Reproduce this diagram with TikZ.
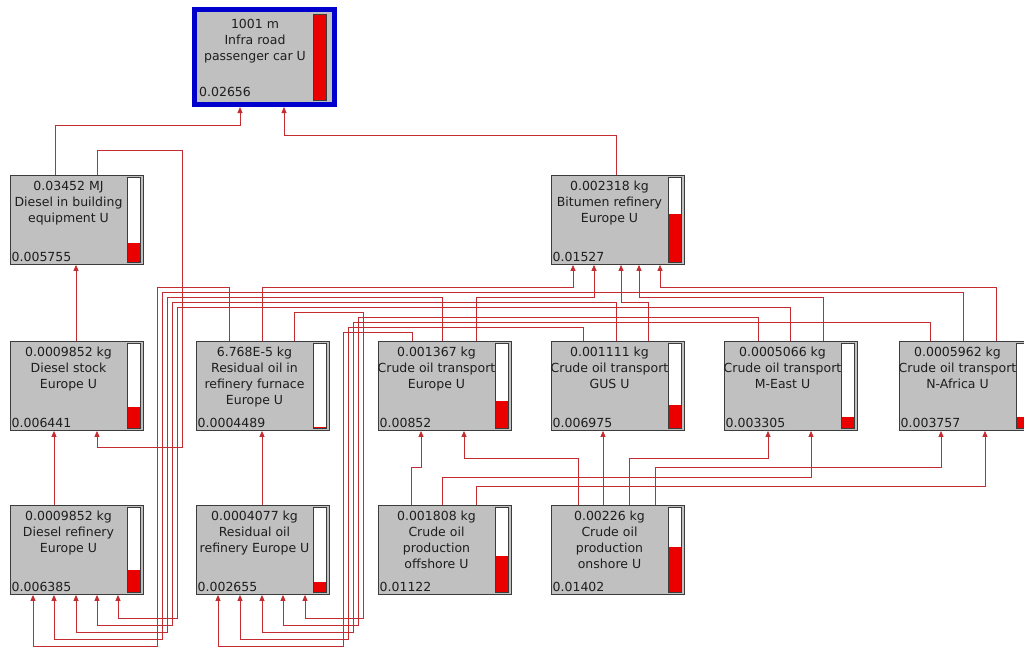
\documentclass[tikz,border=0pt]{standalone}
\usepackage{fontspec}
\setmainfont{DejaVu Sans}
\usetikzlibrary{arrows.meta}
\newcommand{\procbox}[6]{%
  \begin{scope}[shift={(#2,#3)}]
    \node[procbox] (#1) at (0,0) {};
    \draw[barframe] (117,2) rectangle (130,87);
    \fill[barred] (117.5,#4) rectangle (129.5,86.5);
    \node[boxlabel] at (58.5,6) {#5};
    \node[boxvalue] at (1.5,86.5) {#6};
  \end{scope}}
\begin{document}
\begin{tikzpicture}[x=1pt,y=-1pt,
  procbox/.style={draw=boxedge, fill=boxgray, line width=0.9pt, anchor=north west,
    minimum width=133pt, minimum height=89pt, inner sep=0pt},
  barframe/.style={draw=boxedge, fill=white, line width=0.8pt},
  barred/.style={fill=barfill},
  boxlabel/.style={anchor=north, align=center, inner sep=0pt, text=textgray,
    font=\fontsize{12.5}{16}\selectfont},
  boxvalue/.style={anchor=base west, inner sep=0pt, text=textgray,
    font=\fontsize{12.5}{16}\selectfont},
  flow/.style={draw=linkred, line width=0.8pt, -{Triangle[length=6pt,width=5pt]}}]
\definecolor{boxgray}{RGB}{192,192,192}
\definecolor{boxedge}{RGB}{60,60,60}
\definecolor{barfill}{RGB}{235,0,0}
\definecolor{linkred}{RGB}{195,45,50}
\definecolor{selblue}{RGB}{0,0,205}
\definecolor{textgray}{RGB}{30,30,30}
\clip (0,0) rectangle (1024,649);
\fill[white] (0,0) rectangle (1024,649);
\node[procbox, draw=selblue, line width=5pt, minimum width=140pt, minimum height=95pt] (T) at (192,7) {};
\draw[barframe] (313,14) rectangle (326,100);
\fill[barred] (313.5,14.5) rectangle (325.5,99.5);
\node[boxlabel] at (255,19) {1001 m\\Infra road\\passenger car U};
\node[boxvalue] at (199,96) {0.02656};
\procbox{A}{10}{175}{68}{0.03452 MJ\\Diesel in building\\equipment U}{0.005755}
\procbox{B}{551}{175}{39}{0.002318 kg\\Bitumen refinery\\Europe U}{0.01527}
\procbox{C}{10}{341}{66}{0.0009852 kg\\Diesel stock\\Europe U}{0.006441}
\procbox{D}{196}{341}{85.5}{6.768E-5 kg\\Residual oil in\\refinery furnace\\Europe U}{0.0004489}
\procbox{E}{378}{341}{60}{0.001367 kg\\Crude oil transport\\Europe U}{0.00852}
\procbox{F}{551}{341}{64}{0.001111 kg\\Crude oil transport\\GUS U}{0.006975}
\procbox{G}{724}{341}{76}{0.0005066 kg\\Crude oil transport\\M-East U}{0.003305}
\procbox{H}{899}{341}{76}{0.0005962 kg\\Crude oil transport\\N-Africa U}{0.003757}
\procbox{I}{10}{505}{65}{0.0009852 kg\\Diesel refinery\\Europe U}{0.006385}
\procbox{J}{196}{505}{77}{0.0004077 kg\\Residual oil\\refinery Europe U}{0.002655}
\procbox{K}{378}{505}{51}{0.001808 kg\\Crude oil\\production\\offshore U}{0.01122}
\procbox{L}{551}{505}{42}{0.00226 kg\\Crude oil\\production\\onshore U}{0.01402}
\draw[flow] (A.north -| 55,0) |- (240,125) -- (T.south -| 240,0);
\draw[flow] (B.north -| 616,0) |- (284,135) -- (T.south -| 284,0);
\draw[flow] (A.north -| 97,0) |- (182,150) |- (97,447) -- (C.south -| 97,0);
\draw[flow] (C.north -| 76,0) -- (A.south -| 76,0);
\draw[flow] (I.north -| 54,0) -- (C.south -| 54,0);
\draw[flow] (J.north -| 262,0) -- (D.south -| 262,0);
\foreach \src/\sx/\bx/\ty/\by/\ax in {D/229/157/287/646/33, H/963/162/292/639/54,
    E/442/167/297/632/76, F/616/172/302/625/97, G/790/177/307/618/118}
  \draw[flow] (\src.north -| \sx,0) |- (\bx,\ty) |- (\ax,\by) -- (I.south -| \ax,0);
\foreach \src/\sx/\bx/\ty/\by/\ax in {E/412/343/332/646/218, F/583/348/327/639/240,
    H/930/353/322/632/262, G/758/358/317/625/283, D/294/363/312/618/305}
  \draw[flow] (\src.north -| \sx,0) |- (\bx,\ty) |- (\ax,\by) -- (J.south -| \ax,0);
\foreach \src/\sx/\ty/\ax in {D/262/287/573, E/476/297/594, F/648/302/621,
    G/823/297/639, H/996/287/660}
  \draw[flow] (\src.north -| \sx,0) |- (\ax,\ty) -- (B.south -| \ax,0);
\foreach \src/\sx/\ty/\dst/\ax in {K/411/467/E/421, L/578/458/E/464, L/603/458/F/603,
    L/629/458/G/768, K/442/477/G/811, L/655/467/H/941, K/476/486/H/985}
  \draw[flow] (\src.north -| \sx,0) |- (\ax,\ty) -- (\dst.south -| \ax,0);
\end{tikzpicture}
\end{document}
